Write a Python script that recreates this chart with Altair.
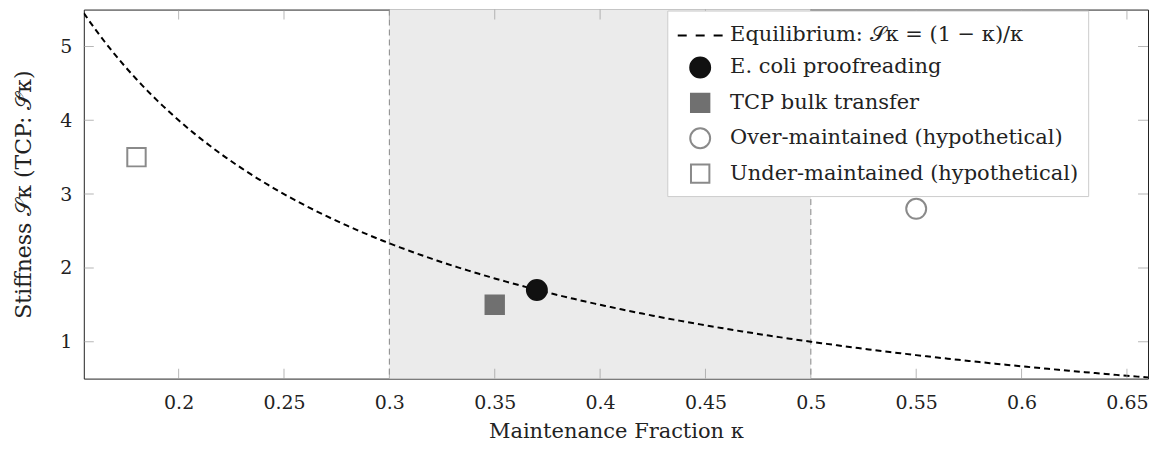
import altair as alt
import pandas as pd

FONT = "DejaVu Serif"

KAPPA_DOMAIN = [0.155, 0.66]
STIFF_DOMAIN = [0.5, 5.5]

series_names = [
    "Equilibrium: 𝒮κ = (1 − κ)/κ",
    "E. coli proofreading",
    "TCP bulk transfer",
    "Over-maintained (hypothetical)",
    "Under-maintained (hypothetical)",
]
point_series = series_names[1:]
point_kappa = [0.37, 0.35, 0.55, 0.18]
point_stiff = [1.7, 1.5, 2.8, 3.5]

band_start = [0.3]
band_end = [0.5]
band_edges = [0.3, 0.5]

x_ticks = [0.2, 0.25, 0.3, 0.35, 0.4, 0.45, 0.5, 0.55, 0.6, 0.65]
y_ticks = [1, 2, 3, 4, 5]

points_df = pd.DataFrame({"series": point_series, "k": point_kappa, "s": point_stiff})
band_df = pd.DataFrame({"start": band_start, "end": band_end})
edges_df = pd.DataFrame({"k": band_edges})
xt_df = pd.DataFrame({"k": x_ticks})
yt_df = pd.DataFrame({"s": y_ticks})

xs = alt.Scale(domain=KAPPA_DOMAIN, nice=False, zero=False)
ys = alt.Scale(domain=STIFF_DOMAIN, nice=False, zero=False)

x_axis = alt.Axis(values=x_ticks, format=".2~f", ticks=False, domain=False, grid=False,
                  labelPadding=15, labelFontSize=19, titleFontSize=21, titlePadding=8,
                  labelColor="#222", titleColor="#222", titleFontWeight="normal")
y_axis = alt.Axis(values=y_ticks, format="d", ticks=False, domain=False, grid=False,
                  labelPadding=12, labelFontSize=19, titleFontSize=22, titlePadding=24,
                  labelColor="#222", titleColor="#222", titleFontWeight="normal")

X = alt.X("k:Q", scale=xs, axis=x_axis, title="Maintenance Fraction κ")
Y = alt.Y("s:Q", scale=ys, axis=y_axis, title="Stiffness 𝒮κ (TCP: 𝒮̃κ)")

band = alt.Chart(band_df).mark_rect(color="#ebebeb").encode(
    x=alt.X("start:Q", scale=xs, axis=x_axis, title="Maintenance Fraction κ"),
    x2="end:Q",
    y=alt.datum(STIFF_DOMAIN[0], scale=ys),
    y2=alt.datum(STIFF_DOMAIN[1]),
)

edges = alt.Chart(edges_df).mark_rule(color="#888", strokeDash=[6, 4], strokeWidth=1).encode(
    x=alt.X("k:Q", scale=xs)
)

curve = (
    alt.Chart(alt.sequence(0.155, 0.6601, 0.0025, as_="k"))
    .transform_calculate(s="(1 - datum.k) / datum.k")
    .mark_line(color="black", strokeDash=[6, 4], strokeWidth=2, clip=True)
    .encode(x=X, y=Y)
)

tick_style = dict(color="#999", size=20, thickness=1, clip=True)
xt_bottom = alt.Chart(xt_df).mark_tick(orient="vertical", **tick_style).encode(
    x=alt.X("k:Q", scale=xs), y=alt.datum(STIFF_DOMAIN[0])
)
xt_top = alt.Chart(xt_df).mark_tick(orient="vertical", **tick_style).encode(
    x=alt.X("k:Q", scale=xs), y=alt.datum(STIFF_DOMAIN[1])
)
yt_left = alt.Chart(yt_df).mark_tick(orient="horizontal", **tick_style).encode(
    y=alt.Y("s:Q", scale=ys), x=alt.datum(KAPPA_DOMAIN[0])
)
yt_right = alt.Chart(yt_df).mark_tick(orient="horizontal", **tick_style).encode(
    y=alt.Y("s:Q", scale=ys), x=alt.datum(KAPPA_DOMAIN[1])
)

line_symbol = "M-1.5,0H-0.9M-0.3,0H0.3M0.9,0H1.5"

legend = alt.Legend(
    title=None, orient="none", legendX=585, legendY=1,
    fillColor="white", strokeColor="#cccccc", padding=9,
    labelFontSize=21, labelFont=FONT, labelColor="#222", labelOffset=14,
    symbolOffset=8,
    rowPadding=8, symbolStrokeWidth=2, labelLimit=460,
)

points = alt.Chart(points_df).mark_point(opacity=1, strokeWidth=2).encode(
    x=X, y=Y,
    shape=alt.Shape("series:N", scale=alt.Scale(domain=series_names,
                    range=[line_symbol, "circle", "square", "circle", "square"]), legend=legend),
    fill=alt.Fill("series:N", scale=alt.Scale(domain=series_names,
                  range=["transparent", "#111111", "#707070", "white", "white"]), legend=legend),
    stroke=alt.Stroke("series:N", scale=alt.Scale(domain=series_names,
                      range=["black", "#111111", "#707070", "#8a8a8a", "#8a8a8a"]), legend=legend),
    size=alt.Size("series:N", scale=alt.Scale(type="ordinal", domain=series_names,
                  range=[900, 400, 340, 400, 340]), legend=legend),
)

chart = (
    alt.layer(band, edges, curve, xt_bottom, xt_top, yt_left, yt_right, points)
    .properties(width=1145, height=436,
                autosize=alt.AutoSizeParams(type="fit", contains="padding"),
                padding={"left": 4, "right": 2, "top": 0, "bottom": 2})
    .configure(font=FONT)
    .configure_view(stroke="#222", strokeWidth=1)
)

chart.save("out.html", embed_options={"renderer": "svg", "actions": False})
